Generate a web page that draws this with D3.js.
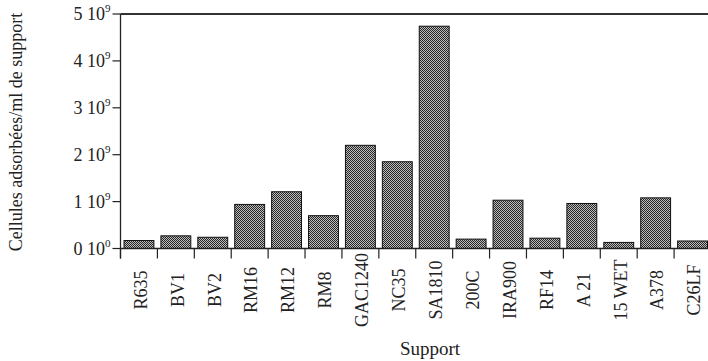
<!DOCTYPE html>
<html>
<head>
<meta charset="utf-8">
<script src="https://cdn.jsdelivr.net/npm/d3@7"></script>
<style>
  body { margin: 0; background: #fff; }
  text { font-family: "Liberation Serif", "DejaVu Serif", serif; fill: #222; }
</style>
</head>
<body>
<div id="chart"></div>
<script>
// supports and adsorbed cells per ml (units of 1e9)
var supports = ["R635", "BV1", "BV2", "RM16", "RM12", "RM8", "GAC1240", "NC35", "SA1810",
  "200C", "IRA900", "RF14", "A 21", "15 WET", "A378", "C26LF"];
var cells = [0.17, 0.27, 0.24, 0.94, 1.21, 0.70, 2.2, 1.85, 4.74,
  0.20, 1.03, 0.22, 0.96, 0.13, 1.08, 0.16];
var yTicks = [0, 1, 2, 3, 4, 5];

var W = 708, H = 361
var x0 = 120.5, x1 = 711, y0 = 248.5, yTop = 14

var svg = d3.select('#chart').append('svg')
  .attr('width', W)
  .attr('height', H)

// stipple pattern for the bars
var defs = svg.append('defs')
var pat = defs.append('pattern')
  .attr('id', 'dots')
  .attr('width', 2).attr('height', 2)
  .attr('patternUnits', 'userSpaceOnUse')
pat.append('rect').attr('width', 2).attr('height', 2).attr('fill', '#bdbdbd')
pat.append('rect').attr('width', 1).attr('height', 1).attr('fill', '#262626')
pat.append('rect').attr('x', 1).attr('y', 1).attr('width', 1).attr('height', 1).attr('fill', '#262626')

var x = d3.scaleBand()
  .domain(supports)
  .range([x0, x1])
  .paddingInner(0.19)
  .paddingOuter(0.095)

var y = d3.scaleLinear()
  .domain([0, 5])
  .range([y0, yTop])

// bars
svg.append('g')
  .selectAll('rect')
  .data(supports)
  .enter().append('rect')
  .attr('x', function (d) { return x(d) })
  .attr('y', function (d, i) { return y(cells[i]) })
  .attr('width', x.bandwidth())
  .attr('height', function (d, i) { return y0 - y(cells[i]) })
  .attr('fill', 'url(#dots)')
  .attr('stroke', '#111')
  .attr('stroke-width', 1)

// frame top line
svg.append('line')
  .attr('x1', x0).attr('x2', W)
  .attr('y1', yTop).attr('y2', yTop)
  .attr('stroke', '#333').attr('stroke-width', 2)

// left axis
var gy = svg.append('g')
gy.append('line')
  .attr('x1', x0).attr('x2', x0)
  .attr('y1', yTop).attr('y2', y0 + 10)
  .attr('stroke', '#222').attr('stroke-width', 1.3)
var ty = gy.selectAll('g.tick')
  .data(yTicks)
  .enter().append('g')
  .attr('class', 'tick')
  .attr('transform', function (d) { return 'translate(0,' + y(d) + ')' })
ty.append('line')
  .attr('x1', x0 - 8).attr('x2', x0)
  .attr('stroke', '#222').attr('stroke-width', 1.2)
var lab = ty.append('text')
  .attr('x', x0 - 10)
  .attr('y', 6)
  .attr('text-anchor', 'end')
  .style('font-size', '18px')
lab.append('tspan').text(function (d) { return d + ' 10' })
lab.append('tspan')
  .attr('dy', -8)
  .style('font-size', '11px')
  .text(function (d) { return d == 0 ? '0' : '9' })

// bottom axis
var gx = svg.append('g')
gx.append('line')
  .attr('x1', x0).attr('x2', W)
  .attr('y1', y0).attr('y2', y0)
  .attr('stroke', '#222').attr('stroke-width', 1.3)
var bounds = d3.range(supports.length + 1).map(function (i) { return x0 + i * x.step() })
gx.selectAll('line.tk')
  .data(bounds)
  .enter().append('line')
  .attr('class', 'tk')
  .attr('x1', function (d) { return d }).attr('x2', function (d) { return d })
  .attr('y1', y0).attr('y2', y0 + 10)
  .attr('stroke', '#222').attr('stroke-width', 1.2)
gx.selectAll('text')
  .data(supports)
  .enter().append('text')
  .attr('transform', function (d) {
    return 'translate(' + (x(d) + x.bandwidth() / 2 + 1.5) + ',290) rotate(-90)'
  })
  .attr('text-anchor', 'middle')
  .attr('dy', '0.35em')
  .style('font-size', '18px')
  .text(function (d) { return d })

// axis titles
svg.append('text')
  .attr('x', 430).attr('y', 355)
  .attr('text-anchor', 'middle')
  .style('font-size', '19px')
  .text('Support')

svg.append('text')
  .attr('transform', 'translate(22,132) rotate(-90)')
  .attr('text-anchor', 'middle')
  .style('font-size', '18px')
  .text('Cellules adsorbées/ml de support')
</script>
</body>
</html>
